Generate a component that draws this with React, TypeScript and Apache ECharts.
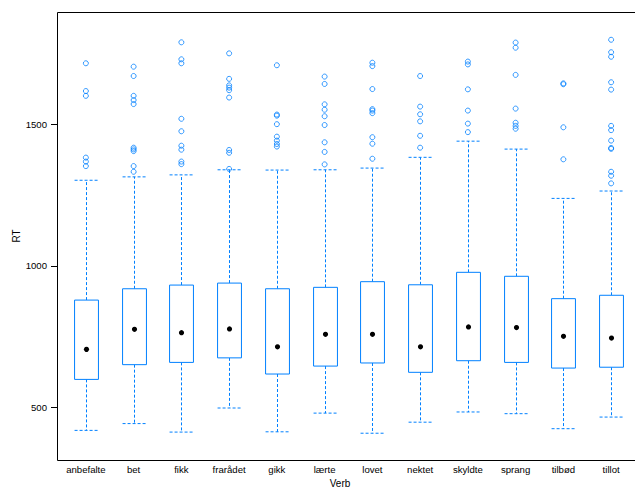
import React, { useEffect, useRef } from "react";
import * as echarts from "echarts";

const categories = ["anbefalte", "bet", "fikk", "frarådet", "gikk", "lærte", "lovet", "nektet", "skyldte", "sprang", "tilbød", "tillot"];
const lowerWhisker = [419, 443, 413, 498, 414, 480, 409, 448, 484, 478, 425, 466];
const q1 = [599, 651, 659, 675, 618, 646, 657, 624, 665, 659, 639, 642];
const medians = [705, 776, 764, 777, 714, 758, 758, 714, 784, 782, 751, 745];
const q3 = [879, 919, 932, 939, 919, 924, 944, 933, 977, 963, 884, 896];
const upperWhisker = [1302, 1314, 1321, 1339, 1338, 1339, 1345, 1383, 1440, 1412, 1238, 1264];
const outliers = [
  [1715, 1617, 1600, 1382, 1368, 1352],
  [1703, 1670, 1600, 1585, 1571, 1417, 1411, 1405, 1352, 1332],
  [1789, 1729, 1715, 1519, 1475, 1424, 1410, 1368, 1359],
  [1750, 1660, 1637, 1629, 1620, 1594, 1409, 1399, 1342],
  [1708, 1534, 1530, 1500, 1456, 1442, 1430, 1421],
  [1668, 1642, 1570, 1551, 1528, 1497, 1436, 1402, 1358],
  [1717, 1705, 1624, 1553, 1548, 1539, 1454, 1431, 1378],
  [1670, 1562, 1535, 1510, 1459, 1417],
  [1721, 1711, 1623, 1548, 1502, 1472],
  [1788, 1770, 1674, 1555, 1505, 1494, 1484],
  [1644, 1641, 1489, 1376],
  [1798, 1754, 1738, 1648, 1622, 1494, 1479, 1442, 1416, 1413, 1332, 1318, 1291],
];
const yTicks = [500, 1000, 1500];

const BLUE = "#0080ff";
const FONT = "'Liberation Sans', Arial, Helvetica, sans-serif";

export default function App() {
  const ref = useRef<HTMLDivElement>(null);
  useEffect(() => {
    document.body.style.margin = "0";
    const chart = echarts.init(ref.current!, undefined, { renderer: "svg" });
    const boxData = categories.map((_, i) => [i, lowerWhisker[i], q1[i], medians[i], q3[i], upperWhisker[i]]);
    const outData: number[][] = [];
    outliers.forEach((arr, i) => arr.forEach((v) => outData.push([i, v])));

    chart.setOption({
      animation: false,
      grid: { left: 62, top: 12, width: 577.2, height: 448.7 },
      xAxis: {
        type: "category",
        data: categories,
        boundaryGap: true,
        axisLine: { show: false },
        axisTick: { show: false },
        axisLabel: { color: "#000", fontSize: 9.6, fontFamily: FONT, margin: 4, interval: 0 },
        splitLine: { show: false },
      },
      yAxis: {
        type: "value",
        min: 312,
        max: 1896,
        offset: 5,
        axisLine: { show: false },
        axisTick: { show: true, length: 6, customValues: yTicks, lineStyle: { color: "#000", width: 1 } },
        axisLabel: {
          color: "#000",
          fontSize: 9.6,
          fontFamily: FONT,
          margin: 10,
          customValues: yTicks,
          formatter: (v: number) => String(v),
        },
        splitLine: { show: false },
      },
      graphic: [
        {
          type: "rect",
          shape: { x: 57.5, y: 12.5, width: 587, height: 448 },
          style: { fill: "none", stroke: "#000", lineWidth: 1 },
          z: 10,
          silent: true,
        },
        {
          type: "text",
          x: 340,
          y: 483,
          style: { text: "Verb", fontSize: 10, fontFamily: FONT, fill: "#000", align: "center", verticalAlign: "middle" },
        },
        {
          type: "text",
          x: 16,
          y: 236,
          rotation: Math.PI / 2,
          style: { text: "RT", fontSize: 10, fontFamily: FONT, fill: "#000", align: "center", verticalAlign: "middle" },
        },
      ],
      series: [
        {
          type: "custom",
          data: boxData,
          encode: { x: 0, y: [1, 2, 3, 4, 5] },
          renderItem: (params: any, api: any) => {
            const i = api.value(0);
            const pLo = api.coord([i, api.value(1)]);
            const pQ1 = api.coord([i, api.value(2)]);
            const pMed = api.coord([i, api.value(3)]);
            const pQ3 = api.coord([i, api.value(4)]);
            const pHi = api.coord([i, api.value(5)]);
            const band = api.size([1, 0])[0];
            const hw = band * 0.25;
            const cx = Math.round(pMed[0]) + 0.5;
            const dashed = { stroke: BLUE, lineWidth: 1, lineDash: [3, 2], fill: null };
            return {
              type: "group",
              children: [
                { type: "line", shape: { x1: cx, y1: pQ3[1], x2: cx, y2: pHi[1] }, style: dashed },
                { type: "line", shape: { x1: cx, y1: pQ1[1], x2: cx, y2: pLo[1] }, style: dashed },
                { type: "line", shape: { x1: cx - hw, y1: pHi[1], x2: cx + hw, y2: pHi[1] }, style: dashed },
                { type: "line", shape: { x1: cx - hw, y1: pLo[1], x2: cx + hw, y2: pLo[1] }, style: dashed },
                {
                  type: "rect",
                  shape: { x: cx - hw, y: pQ3[1], width: hw * 2, height: pQ1[1] - pQ3[1] },
                  style: { stroke: BLUE, lineWidth: 1, fill: "#fff" },
                },
                { type: "circle", shape: { cx: cx, cy: pMed[1], r: 2.6 }, style: { fill: "#000", stroke: null } },
              ],
            };
          },
          z: 2,
        },
        {
          type: "scatter",
          data: outData,
          symbol: "circle",
          symbolSize: 5,
          itemStyle: { color: "rgba(0,0,0,0)", borderColor: BLUE, borderWidth: 1 },
          z: 3,
        },
      ],
    });
    return () => chart.dispose();
  }, []);
  return <div ref={ref} style={{ width: 635, height: 489 }} />;
}
